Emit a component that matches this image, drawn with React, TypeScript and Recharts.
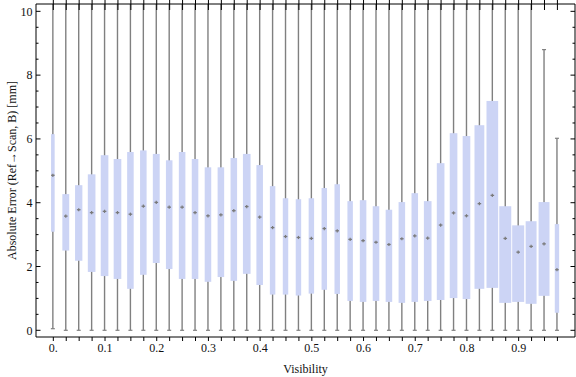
import React from 'react';
import { ComposedChart, Bar, XAxis, YAxis } from 'recharts';

// Visibility bins (box positions)
const visibility = [
  0, 0.025, 0.05, 0.075, 0.1, 0.125, 0.15, 0.175, 0.2, 0.225,
  0.25, 0.275, 0.3, 0.325, 0.35, 0.375, 0.4, 0.425, 0.45, 0.475,
  0.5, 0.525, 0.55, 0.575, 0.6, 0.625, 0.65, 0.675, 0.7, 0.725,
  0.75, 0.775, 0.8, 0.825, 0.85, 0.875, 0.9, 0.925, 0.95, 0.975,
];
// Upper quartile
const q3 = [
  6.15, 4.27, 4.55, 4.89, 5.49, 5.37, 5.59, 5.64, 5.53, 5.33,
  5.59, 5.37, 5.11, 5.11, 5.4, 5.53, 5.18, 4.52, 4.14, 4.11,
  4.14, 4.46, 4.58, 4.05, 4.08, 3.89, 3.78, 4.02, 4.3, 4.05,
  5.24, 6.18, 6.09, 6.43, 7.19, 3.89, 3.29, 3.42, 4.02, 3.33,
];
// Lower quartile
const q1 = [
  3.09, 2.5, 2.18, 1.83, 1.7, 1.61, 1.3, 1.74, 2.11, 1.92,
  1.61, 1.61, 1.52, 1.67, 1.55, 1.77, 1.42, 1.12, 1.12, 1.09,
  1.15, 1.27, 1.14, 0.92, 0.89, 0.92, 0.89, 0.86, 0.89, 0.92,
  0.95, 1.01, 0.98, 1.3, 1.33, 0.86, 0.89, 0.83, 1.08, 0.55,
];
// Median
const median = [
  4.86, 3.58, 3.78, 3.69, 3.73, 3.69, 3.64, 3.89, 4.01, 3.86,
  3.86, 3.69, 3.59, 3.62, 3.75, 3.88, 3.55, 3.22, 2.94, 2.91,
  2.88, 3.19, 3.12, 2.85, 2.81, 2.76, 2.69, 2.87, 2.96, 2.89,
  3.3, 3.68, 3.59, 3.97, 4.23, 2.88, 2.45, 2.63, 2.71, 1.9,
];
// Whisker ends (values above 10.23 run off the top of the plot)
const whiskerLow = [
  0.05, 0, 0, 0, 0, 0, 0, 0, 0, 0,
  0, 0, 0, 0, 0, 0, 0, 0, 0, 0,
  0, 0, 0, 0, 0, 0, 0, 0, 0, 0,
  0, 0, 0, 0, 0, 0, 0, 0, 0, 0,
];
const whiskerHigh = [
  11, 11, 11, 11, 11, 11, 11, 11, 11, 11,
  11, 11, 11, 11, 11, 11, 11, 11, 11, 11,
  11, 11, 11, 11, 11, 11, 11, 11, 11, 11,
  11, 11, 11, 11, 11, 11, 11, 11, 8.8, 6.02,
];
// Relative box widths (sample weight)
const boxWeight = [
  3.3, 6.3, 6.7, 7, 7, 7, 6, 6, 6.3, 6,
  6, 6, 6, 6, 6, 7, 6, 5, 5, 5,
  5, 5, 5, 5, 6, 6, 6, 6, 6, 7,
  7, 7, 7, 9, 10.7, 11, 11, 10, 10, 4,
];
const maxWeight = 11;

const xTicks = [
  0, 0.025, 0.05, 0.075, 0.1, 0.125, 0.15, 0.175, 0.2, 0.225,
  0.25, 0.275, 0.3, 0.325, 0.35, 0.375, 0.4, 0.425, 0.45, 0.475,
  0.5, 0.525, 0.55, 0.575, 0.6, 0.625, 0.65, 0.675, 0.7, 0.725,
  0.75, 0.775, 0.8, 0.825, 0.85, 0.875, 0.9, 0.925, 0.95, 0.975,
];
const xLabelTicks = [0, 0.1, 0.2, 0.3, 0.4, 0.5, 0.6, 0.7, 0.8, 0.9];
const xLabelTexts = ['0.', '0.1', '0.2', '0.3', '0.4', '0.5', '0.6', '0.7', '0.8', '0.9'];
const yTicks = [
  0, 0.5, 1, 1.5, 2, 2.5, 3, 3.5, 4, 4.5, 5, 5.5, 6, 6.5, 7, 7.5, 8, 8.5, 9, 9.5, 10,
];
const yLabelTicks = [0, 2, 4, 6, 8, 10];

const X_DOMAIN: [number, number] = [-0.0335, 1.009];
const Y_DOMAIN: [number, number] = [-0.21, 10.23];

const data = visibility.map((v, i) => ({
  v,
  range: [whiskerLow[i], whiskerHigh[i]],
  lo: whiskerLow[i],
  hi: whiskerHigh[i],
  q1: q1[i],
  q3: q3[i],
  med: median[i],
  w: boxWeight[i],
}));

const BoxShape = (props: any) => {
  const { x, y, width, height } = props;
  const p = props.payload ?? props;
  if (x == null || y == null) return null;
  const cx = x + width / 2;
  const yOf = (val: number) => y + (height * (p.hi - val)) / (p.hi - p.lo);
  const bw = (width * p.w) / maxWeight;
  const yTop = yOf(p.q3);
  const yBot = yOf(p.q1);
  return (
    <g>
      <line x1={cx} x2={cx} y1={yOf(p.hi)} y2={yOf(p.lo)} stroke="#808080" strokeWidth={1.4} />
      <line x1={cx - 2} x2={cx + 2} y1={yOf(p.lo)} y2={yOf(p.lo)} stroke="#808080" strokeWidth={1.2} />
      <line x1={cx - 2} x2={cx + 2} y1={yOf(p.hi)} y2={yOf(p.hi)} stroke="#808080" strokeWidth={1.2} />
      <rect x={cx - bw / 2} y={yTop} width={bw} height={yBot - yTop} fill="#CCD4F5" />
      <line x1={cx - 1.8} x2={cx + 1.8} y1={yOf(p.med)} y2={yOf(p.med)} stroke="#7a7a7a" strokeWidth={1.3} />
      <line x1={cx} x2={cx} y1={yOf(p.med) - 1.6} y2={yOf(p.med) + 1.6} stroke="#7a7a7a" strokeWidth={1.2} />
    </g>
  );
};

const LeftTick = (props: any) => {
  const { x, y, payload } = props;
  const v = payload.value;
  const major = yLabelTicks.some((t) => Math.abs(t - v) < 1e-9);
  return (
    <g>
      <line x1={x} x2={x + (major ? 4.5 : 2.5)} y1={y} y2={y} stroke="#000" strokeWidth={1} />
      {major ? (
        <text x={x - 3.5} y={y} dy="0.35em" textAnchor="end" fontSize={12} fill="#111">
          {String(v)}
        </text>
      ) : null}
    </g>
  );
};

const RightTick = (props: any) => {
  const { x, y, payload } = props;
  const v = payload.value;
  const major = yLabelTicks.some((t) => Math.abs(t - v) < 1e-9);
  return <line x1={x} x2={x - (major ? 4.5 : 2.5)} y1={y} y2={y} stroke="#000" strokeWidth={1} />;
};

const TopTick = (props: any) => {
  const { x, y } = props;
  return <line x1={x} x2={x} y1={y - 4} y2={y + 8} stroke="#000" strokeWidth={1} />;
};

const fmtX = (v: number) => {
  const i = xLabelTicks.findIndex((t) => Math.abs(t - v) < 1e-9);
  return i >= 0 ? xLabelTexts[i] : '';
};

export default function App() {
  return (
    <div style={{ position: 'absolute', left: 0, top: 0, width: 576, height: 377, background: '#fff' }}>
      <ComposedChart
        width={576}
        height={377}
        data={data}
        margin={{ top: 0, right: 0, bottom: 0, left: 0 }}
        style={{ fontFamily: '"Liberation Serif", "Times New Roman", serif' }}
      >
        <XAxis
          xAxisId="bottom"
          dataKey="v"
          type="number"
          domain={X_DOMAIN}
          allowDataOverflow
          ticks={xTicks}
          interval={0}
          tickFormatter={fmtX}
          tickSize={4}
          tickMargin={2}
          height={40}
          stroke="#000"
          tick={{ fill: '#111', fontSize: 12 }}
          label={{ value: 'Visibility', position: 'insideBottom', offset: 4, fill: '#111', fontSize: 12 }}
        />
        <XAxis
          xAxisId="top"
          dataKey="v"
          orientation="top"
          type="number"
          domain={X_DOMAIN}
          allowDataOverflow
          ticks={xTicks}
          interval={0}
          tickSize={0}
          tickLine={false}
          height={4}
          stroke="#000"
          tick={<TopTick />}
        />
        <YAxis
          yAxisId="left"
          type="number"
          domain={Y_DOMAIN}
          allowDataOverflow
          ticks={yTicks}
          interval={0}
          tickSize={0}
          tickMargin={0}
          tickLine={false}
          width={36}
          stroke="#000"
          tick={<LeftTick />}
          label={{
            value: 'Absolute Error (Ref→Scan, B) [mm]',
            angle: -90,
            position: 'insideLeft',
            offset: 12,
            fill: '#111',
            fontSize: 12,
            style: { textAnchor: 'middle' },
          }}
        />
        <YAxis
          yAxisId="right"
          orientation="right"
          type="number"
          domain={Y_DOMAIN}
          allowDataOverflow
          ticks={yTicks}
          interval={0}
          tickSize={0}
          tickMargin={0}
          tickLine={false}
          width={1}
          stroke="#000"
          tick={<RightTick />}
        />
        <Bar
          xAxisId="bottom"
          yAxisId="left"
          dataKey="range"
          barSize={12}
          shape={BoxShape}
          isAnimationActive={false}
        />
      </ComposedChart>
    </div>
  );
}
